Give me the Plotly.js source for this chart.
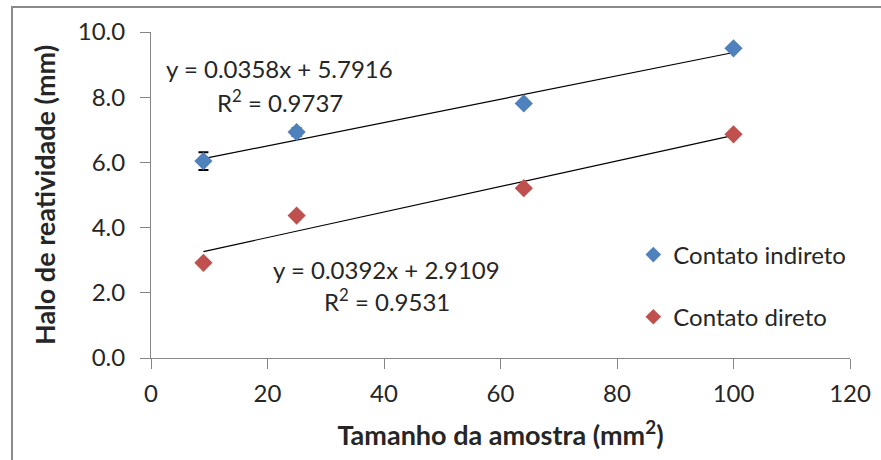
<!DOCTYPE html>
<html><head><meta charset="utf-8">
<script src="https://cdn.plot.ly/plotly-3.0.1.min.js"></script>
<style>
html,body{margin:0;padding:0;background:#fff;}
#wrap{position:relative;width:881px;height:460px;}
#chart{width:881px;height:460px;}
#frame{position:absolute;left:11px;top:6px;right:-4px;bottom:-4px;border:2px solid #8a8a8a;pointer-events:none;}
</style></head>
<body>
<div id="wrap"><div id="chart"></div><div id="frame"></div></div>
<script>
// Data
const sampleSize = [9, 25, 64, 100];
const indireto = [6.04, 6.93, 7.81, 9.50];
const indiretoErr = [0.27, 0.12, 0, 0];
const direto = [2.92, 4.37, 5.21, 6.86];
const seriesNames = ["Contato indireto", "Contato direto"];
const slopes = [0.0358, 0.0392];
const intercepts = [5.7916, 2.9109];
const rSquared = [0.9737, 0.9531];
const yTicks = [0, 2, 4, 6, 8, 10];
const xTicks = [0, 20, 40, 60, 80, 100, 120];

const BLUE = "#4F81BD", RED = "#C0504D", TXT = "#262626", AX = "#868686";
const FONT = "Lato, 'Open Sans', sans-serif";
const FS = 24, TFS = 27;

const xmin = Math.min(...sampleSize), xmax = Math.max(...sampleSize);
function trend(i){
  return {x:[xmin, xmax], y:[slopes[i]*xmin+intercepts[i], slopes[i]*xmax+intercepts[i]],
    mode:"lines", line:{color:"#000", width:1.2}, showlegend:false, hoverinfo:"skip"};
}

const traces = [
  trend(0), trend(1),
  {x:sampleSize, y:indireto, name:seriesNames[0], mode:"markers", legendgroup:"a",
   marker:{symbol:"diamond", size:14, color:BLUE},
   error_y:{type:"data", array:indiretoErr, visible:true, color:"#000", thickness:2, width:5}},
  {x:sampleSize, y:direto, name:seriesNames[1], mode:"markers", legendgroup:"b",
   marker:{symbol:"diamond", size:14, color:RED}}
];

function eqText(i){
  return "y = " + slopes[i].toFixed(4) + "x + " + intercepts[i].toFixed(4);
}

const layout = {
  width:881, height:460,
  margin:{l:151, r:31, t:32, b:102},
  paper_bgcolor:"#fff", plot_bgcolor:"#fff",
  font:{family:FONT, color:TXT, size:FS},
  showlegend:true,
  legend:{x:0.69, y:0.385, xanchor:"left", yanchor:"top", font:{size:FS, color:TXT},
    tracegroupgap:28, itemsizing:"constant", bgcolor:"rgba(0,0,0,0)"},
  xaxis:{range:[0,120], tickvals:xTicks, ticktext:xTicks.map(String), showgrid:false, zeroline:false,
    showline:true, linecolor:AX, linewidth:1, ticks:"outside", ticklen:10, tickcolor:AX,
    tickfont:{size:FS, color:TXT}, ticklabelstandoff:4,
    title:{text:"<b>Tamanho da amostra (mm<sup>2</sup>)</b>", font:{size:TFS, color:TXT}, standoff:20}},
  yaxis:{range:[0,10], tickvals:yTicks, ticktext:yTicks.map(v=>v.toFixed(1)), showgrid:false, zeroline:false,
    showline:true, linecolor:AX, linewidth:1, ticks:"outside", ticklen:10, tickcolor:AX,
    tickfont:{size:FS, color:TXT}, ticklabelstandoff:10,
    title:{text:"<b>Halo de reatividade (mm)</b>", font:{size:TFS, color:TXT}, standoff:14}},
  annotations:[
    {x:22.1, y:8.87, xref:"x", yref:"y", text:eqText(0), showarrow:false, font:{size:FS, color:TXT}},
    {x:22.1, y:7.88, xref:"x", yref:"y", text:"R<sup>2</sup> = " + rSquared[0].toFixed(4), showarrow:false, font:{size:FS, color:TXT}},
    {x:40.5, y:2.70, xref:"x", yref:"y", text:eqText(1), showarrow:false, font:{size:FS, color:TXT}},
    {x:40.5, y:1.78, xref:"x", yref:"y", text:"R<sup>2</sup> = " + rSquared[1].toFixed(4), showarrow:false, font:{size:FS, color:TXT}}
  ]
};
Plotly.newPlot("chart", traces, layout, {staticPlot:true, displayModeBar:false});
</script>
</body></html>
